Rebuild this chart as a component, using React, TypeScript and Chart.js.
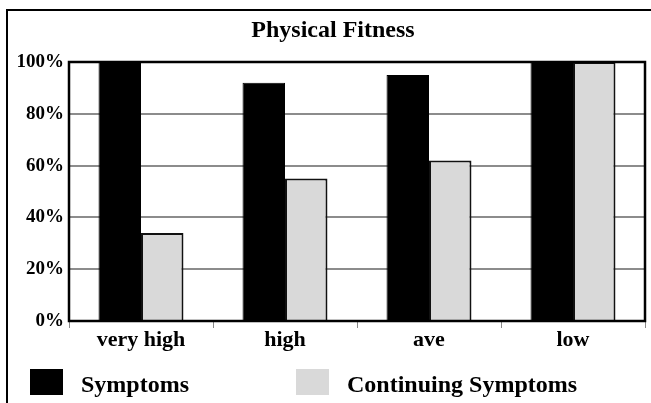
import React, { useEffect, useRef } from 'react';
import { Chart, registerables } from 'chart.js';

Chart.register(...registerables);

const chartTitle = 'Physical Fitness';
const categories = ['very high', 'high', 'ave', 'low'];
const seriesNames = ['Symptoms', 'Continuing Symptoms'];
const symptoms = [100, 92, 95, 100];
const continuingSymptoms = [34, 55, 62, 100];
const yTickValues = [0, 20, 40, 60, 80, 100];

const FONT = "'Liberation Serif', 'Times New Roman', serif";
const BLACK = '#000000';
const GRAY = '#d9d9d9';

const W = 651;
const H = 403;

const framePlugin = {
  id: 'frameAndLegend',
  beforeDraw(chart: any) {
    const ctx = chart.ctx;
    ctx.save();
    ctx.fillStyle = '#ffffff';
    ctx.fillRect(0, 0, chart.width, chart.height);
    ctx.strokeStyle = '#000';
    ctx.lineWidth = 2;
    ctx.beginPath();
    ctx.moveTo(7, chart.height + 5);
    ctx.lineTo(7, 10);
    ctx.lineTo(chart.width + 5, 10);
    ctx.stroke();
    ctx.font = `bold 24px ${FONT}`;
    ctx.fillStyle = '#000';
    ctx.textAlign = 'center';
    ctx.textBaseline = 'alphabetic';
    ctx.fillText(chartTitle, 333, 37);
    ctx.restore();
  },
  afterDatasetsDraw(chart: any) {
    const ctx = chart.ctx;
    const { left, top, right, bottom } = chart.chartArea;
    ctx.save();
    ctx.strokeStyle = '#000';
    ctx.lineWidth = 2.5;
    ctx.strokeRect(left, top, right - left, bottom - top);
    ctx.restore();
  },
  afterDraw(chart: any) {
    const ctx = chart.ctx;
    const itemX = [30, 296];
    const boxW = 33;
    const boxH = 26;
    const boxY = 369;
    ctx.save();
    ctx.font = `bold 24px ${FONT}`;
    ctx.textBaseline = 'alphabetic';
    ctx.textAlign = 'left';
    chart.data.datasets.forEach((ds: any, i: number) => {
      const x = itemX[i];
      ctx.fillStyle = ds.backgroundColor;
      ctx.fillRect(x, boxY, boxW, boxH);
      ctx.fillStyle = '#000';
      ctx.fillText(ds.label, x + boxW + 18, 392);
    });
    ctx.restore();
  },
};

export default function App() {
  const canvasRef = useRef<HTMLCanvasElement | null>(null);

  useEffect(() => {
    if (!canvasRef.current) return;
    const chart = new Chart(canvasRef.current, {
      type: 'bar',
      data: {
        labels: categories,
        datasets: [
          {
            label: seriesNames[0],
            data: symptoms,
            backgroundColor: BLACK,
            borderColor: BLACK,
            borderWidth: 1,
            categoryPercentage: 0.59,
            barPercentage: 1.0,
          },
          {
            label: seriesNames[1],
            data: continuingSymptoms,
            backgroundColor: GRAY,
            borderColor: '#111111',
            borderWidth: 2,
            categoryPercentage: 0.59,
            barPercentage: 1.0,
          },
        ],
      },
      options: {
        animation: false,
        responsive: false,
        devicePixelRatio: 1,
        layout: { padding: { left: 0, right: 6, top: 62, bottom: 52 } },
        plugins: {
          legend: { display: false },
          tooltip: { enabled: false },
          title: { display: false },
        },
        scales: {
          x: {
            grid: {
              display: true,
              drawOnChartArea: false,
              drawTicks: true,
              tickLength: 7,
              color: '#888888',
              lineWidth: 1,
            },
            border: { display: false },
            ticks: {
              color: '#000',
              padding: 1,
              font: { family: FONT, size: 22, weight: 'bold', lineHeight: 1 },
            },
            afterFit(scale: any) {
              scale.height = 30;
            },
          },
          y: {
            min: 0,
            max: 100,
            afterBuildTicks(scale: any) {
              scale.ticks = yTickValues.map((v) => ({ value: v }));
            },
            grid: {
              drawTicks: false,
              color: (c: any) =>
                c.tick && (c.tick.value === 0 || c.tick.value === 100) ? 'rgba(0,0,0,0)' : '#8c8c8c',
              lineWidth: 2,
            },
            border: { display: false },
            ticks: {
              color: '#000',
              padding: 5,
              font: { family: FONT, size: 19, weight: 'bold' },
              callback: (v: any) => `${v}%`,
            },
            afterFit(scale: any) {
              scale.width = 69;
            },
          },
        },
      },
      plugins: [framePlugin],
    } as any);
    return () => chart.destroy();
  }, []);

  return (
    <div style={{ position: 'fixed', left: 0, top: 0, width: W, height: H, background: '#fff' }}>
      <canvas ref={canvasRef} width={W} height={H} style={{ display: 'block', width: W, height: H }} />
    </div>
  );
}
